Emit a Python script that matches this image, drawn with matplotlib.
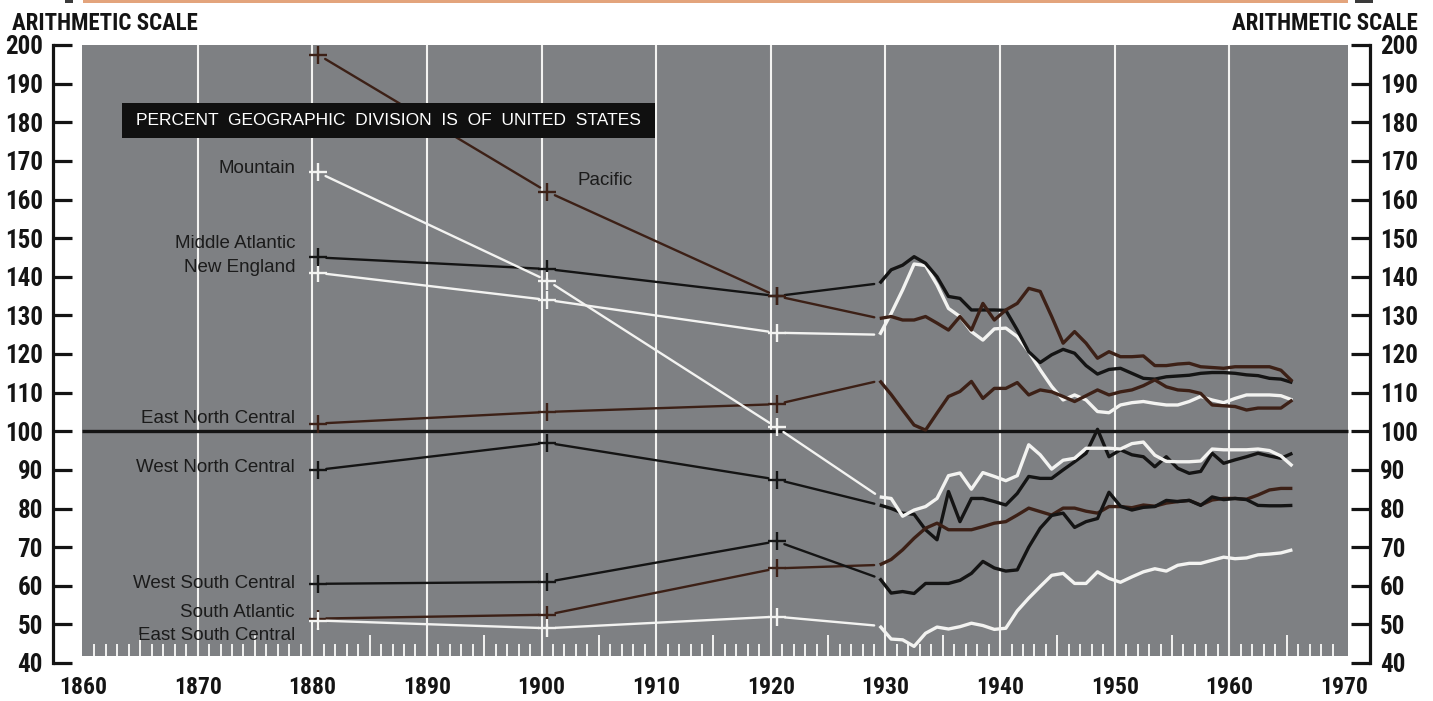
import matplotlib
matplotlib.use("Agg")
import matplotlib.pyplot as plt
from matplotlib import font_manager
from matplotlib.patches import Rectangle

# Per capita income of each geographic division as percent of the U.S. average.
# Census-year estimates for 1880, 1900 and 1920, annual figures 1929-1965.
census_years = [1880, 1900, 1920]
annual_years = list(range(1929, 1966))

new_england_census = [141, 134, 125.5]
new_england = [125.0, 130.5, 136.6, 143.3, 142.9, 137.9, 131.8, 129.7, 125.8, 123.6,
               126.5, 126.7, 124.5, 120.6, 115.9, 111.6, 108.1, 109.4, 108.1, 105.1,
               104.8, 106.8, 107.4, 107.7, 107.2, 106.8, 106.8, 107.7, 109.0, 108.1,
               107.4, 108.5, 109.4, 109.4, 109.4, 109.2, 108.1]

middle_atlantic_census = [145, 142, 135]
middle_atlantic = [138.3, 141.8, 143.0, 145.2, 143.5, 140.0, 134.9, 134.4, 131.4, 131.4,
                   131.4, 131.3, 126.2, 120.6, 117.8, 119.8, 121.2, 120.2, 117.0, 114.8,
                   116.0, 116.3, 115.0, 113.7, 113.5, 114.1, 114.3, 114.5, 115.0, 115.2,
                   115.2, 115.0, 114.6, 114.4, 113.7, 113.5, 112.6]

east_north_central_census = [102, 105, 107]
east_north_central = [113.1, 109.5, 105.5, 101.6, 100.3, 104.7, 109.0, 110.3, 112.9, 108.5,
                      111.1, 111.1, 112.6, 109.4, 110.7, 110.2, 109.0, 107.7, 109.2, 110.7,
                      109.4, 110.2, 110.7, 111.8, 113.3, 111.5, 110.7, 110.5, 109.8, 106.8,
                      106.6, 106.4, 105.5, 106.0, 106.0, 106.0, 108.1]

west_north_central_census = [90, 97, 87.5]
west_north_central = [80.9, 80.0, 78.8, 78.5, 74.5, 71.9, 84.4, 76.6, 82.6, 82.6,
                      81.8, 80.9, 83.9, 88.3, 87.8, 87.8, 90.0, 92.1, 94.3, 100.5,
                      93.4, 95.2, 93.9, 93.4, 90.8, 93.4, 90.4, 89.1, 89.6, 94.3,
                      91.7, 92.6, 93.4, 94.3, 93.6, 93.0, 94.3]

south_atlantic_census = [51.5, 52.5, 64.5]
south_atlantic = [65.4, 66.8, 69.3, 72.3, 74.9, 76.2, 74.5, 74.5, 74.5, 75.3,
                  76.2, 76.6, 78.3, 80.1, 79.2, 78.3, 80.1, 80.1, 79.3, 78.8,
                  80.5, 80.5, 80.2, 80.9, 80.6, 81.4, 81.8, 82.1, 80.9, 82.2,
                  82.6, 82.6, 82.4, 83.5, 84.8, 85.2, 85.2]

east_south_central_census = [51, 49, 52]
east_south_central = [49.6, 46.2, 46.0, 44.3, 47.7, 49.3, 48.8, 49.4, 50.3, 49.7,
                      48.7, 49.0, 53.5, 56.8, 59.8, 62.7, 63.2, 60.6, 60.6, 63.6,
                      61.9, 60.9, 62.3, 63.6, 64.4, 63.8, 65.3, 65.8, 65.8, 66.6,
                      67.4, 67.0, 67.2, 68.0, 68.2, 68.5, 69.3]

west_south_central_census = [60.5, 61, 71.5]
west_south_central = [61.9, 58.1, 58.5, 58.0, 60.6, 60.6, 60.6, 61.4, 63.2, 66.3,
                      64.6, 63.8, 64.1, 70.0, 74.9, 78.2, 78.8, 75.1, 76.6, 77.4,
                      84.2, 80.6, 79.6, 80.3, 80.5, 82.1, 81.8, 82.1, 80.8, 83.0,
                      82.3, 82.6, 82.3, 80.8, 80.7, 80.7, 80.8]

mountain_census = [167, 139, 101]
mountain = [83.0, 82.6, 78.0, 79.6, 80.5, 82.6, 88.5, 89.2, 85.0, 89.3,
            88.3, 87.2, 88.5, 96.5, 93.9, 90.2, 92.5, 93.0, 95.6, 95.6,
            95.6, 95.4, 96.8, 97.2, 93.8, 92.2, 92.1, 92.1, 92.3, 95.4,
            95.2, 95.2, 95.2, 95.4, 95.0, 93.6, 91.0]

pacific_census = [197.5, 162, 135]
pacific = [129.2, 129.7, 128.8, 128.8, 129.7, 128.0, 126.2, 129.7, 126.2, 133.1,
           128.8, 131.4, 133.1, 137.0, 136.2, 129.7, 122.8, 125.8, 122.8, 118.9,
           120.6, 119.3, 119.3, 119.5, 117.0, 117.0, 117.4, 117.6, 116.7, 116.5,
           116.3, 116.7, 116.7, 116.7, 116.7, 115.8, 112.9]

GRAY = "#7e8083"
WHITE = "#f3f3f1"
BLACK = "#141414"
BROWN = "#3c2016"
INK = "#1b1b1b"

# name, census values, annual values, colour, label position, label alignment
series = [
    ("New England", new_england_census, new_england, WHITE, (1878.5, 142.3), "right"),
    ("Middle Atlantic", middle_atlantic_census, middle_atlantic, BLACK, (1878.5, 148.7), "right"),
    ("East North Central", east_north_central_census, east_north_central, BROWN, (1878.5, 103.2), "right"),
    ("West North Central", west_north_central_census, west_north_central, BLACK, (1878.5, 90.7), "right"),
    ("South Atlantic", south_atlantic_census, south_atlantic, BROWN, (1878.5, 53.0), "right"),
    ("East South Central", east_south_central_census, east_south_central, WHITE, (1878.5, 47.0), "right"),
    ("West South Central", west_south_central_census, west_south_central, BLACK, (1878.5, 60.5), "right"),
    ("Mountain", mountain_census, mountain, WHITE, (1878.5, 167.9), "right"),
    ("Pacific", pacific_census, pacific, BROWN, (1903.1, 165.0), "left"),
]

# scale numbers want a condensed bold face; fall back to Roboto if none is around
installed = {f.name for f in font_manager.fontManager.ttflist}
condensed = [n for n in ("Liberation Sans Narrow", "Roboto Condensed",
                         "Open Sans Condensed", "DejaVu Sans Condensed")
             if n in installed]
if condensed:
    NARROW = [condensed[0], "DejaVu Sans"]
    num_size, year_size, head_size = 18, 17, 16.5
else:
    NARROW = ["Roboto", "DejaVu Sans"]
    num_size, year_size, head_size = 16, 15.5, 14.5
PLAIN = ["Liberation Sans", "DejaVu Sans"]

W, H = 1433, 701
fig = plt.figure(figsize=(W / 100, H / 100), dpi=100)
ax = fig.add_axes([52.5 / W, 38 / H, 1317.5 / W, 618 / H])
ax.set_xlim(1857.34, 1972.27)
ax.set_ylim(40, 200)
ax.patch.set_visible(False)

for side in ("top", "bottom"):
    ax.spines[side].set_visible(False)
for side in ("left", "right"):
    ax.spines[side].set_linewidth(2.3)
    ax.spines[side].set_color(BLACK)

# panel, decade rules and year ticks
x0, x1, y0, y1 = 1859.9, 1970.35, 41.8, 200.25
ax.add_patch(Rectangle((x0, y0), x1 - x0, y1 - y0, fc=GRAY, ec="none", zorder=0))
ax.vlines(range(1870, 1961, 10), y0, y1, colors=WHITE, lw=1.5, zorder=1)
years = [y for y in range(1861, 1970) if y % 10]
ax.vlines(years, y0, [y0 + (5.4 if y % 5 == 0 else 3.1) for y in years],
          colors=WHITE, lw=1.4, zorder=1)
ax.hlines(100, x0, x1, colors=BLACK, lw=2.4, zorder=2)

# axes ticks and labels
ax.set_yticks(range(40, 201, 10))
ax.tick_params(axis="y", direction="in", length=14, width=2.3, color=BLACK,
               left=True, right=True, labelleft=True, labelright=True,
               labelsize=num_size, pad=7)
ax.set_xticks(range(1860, 1971, 10))
ax.tick_params(axis="x", length=0, labelsize=year_size, pad=9)
for t in ax.xaxis.get_major_ticks() + ax.yaxis.get_major_ticks():
    for lab in (t.label1, t.label2):
        lab.set_family(NARROW)
        lab.set_weight("bold")
        lab.set_color(BLACK)

fig.text(12 / W, 1 - 24 / H, "ARITHMETIC SCALE", ha="left", va="center",
         fontsize=head_size, weight="bold", family=NARROW, color=BLACK)
fig.text(1418 / W, 1 - 24 / H, "ARITHMETIC SCALE", ha="right", va="center",
         fontsize=head_size, weight="bold", family=NARROW, color=BLACK)

# bottom edge of the panel printed above
for left, width, colour in [(83, 1265, "#e3a47c"), (65, 8, "#3a3a3a"), (1355, 18, "#3a3a3a")]:
    fig.patches.append(Rectangle((left / W, 1 - 3 / H), width / W, 3 / H,
                                 transform=fig.transFigure, fc=colour, ec="none"))

# series
for name, cen, ann, col, (lx, ly), ha in series:
    cx = [y + 0.5 for y in census_years] + [annual_years[0] + 0.5]
    cy = list(cen) + [ann[0]]
    for i in range(len(cx) - 1):
        ax.annotate("", xy=(cx[i + 1], cy[i + 1]), xytext=(cx[i], cy[i]),
                    arrowprops=dict(arrowstyle="-", color=col, lw=1.7,
                                    shrinkA=6, shrinkB=6 if i < 2 else 4),
                    zorder=3)
    ax.plot(cx[:3], cy[:3], ls="none", marker="+", ms=13, mew=1.7, color=col, zorder=3)
    ax.plot([y + 0.5 for y in annual_years], ann, color=col, lw=2.4, zorder=4,
            solid_capstyle="butt")
    ax.text(lx, ly, name, ha=ha, va="center", fontsize=13.5, family=PLAIN,
            color=INK, zorder=5)

# heading box
ax.add_patch(Rectangle((1863.4, 175.9), 46.5, 9.1, fc="#101010", ec="none", zorder=5))
ax.text(1886.65, 180.45, "PERCENT  GEOGRAPHIC  DIVISION  IS  OF  UNITED  STATES",
        ha="center", va="center", fontsize=12.5, family=PLAIN, color="white", zorder=6)

fig.savefig("out.png", dpi=100)
